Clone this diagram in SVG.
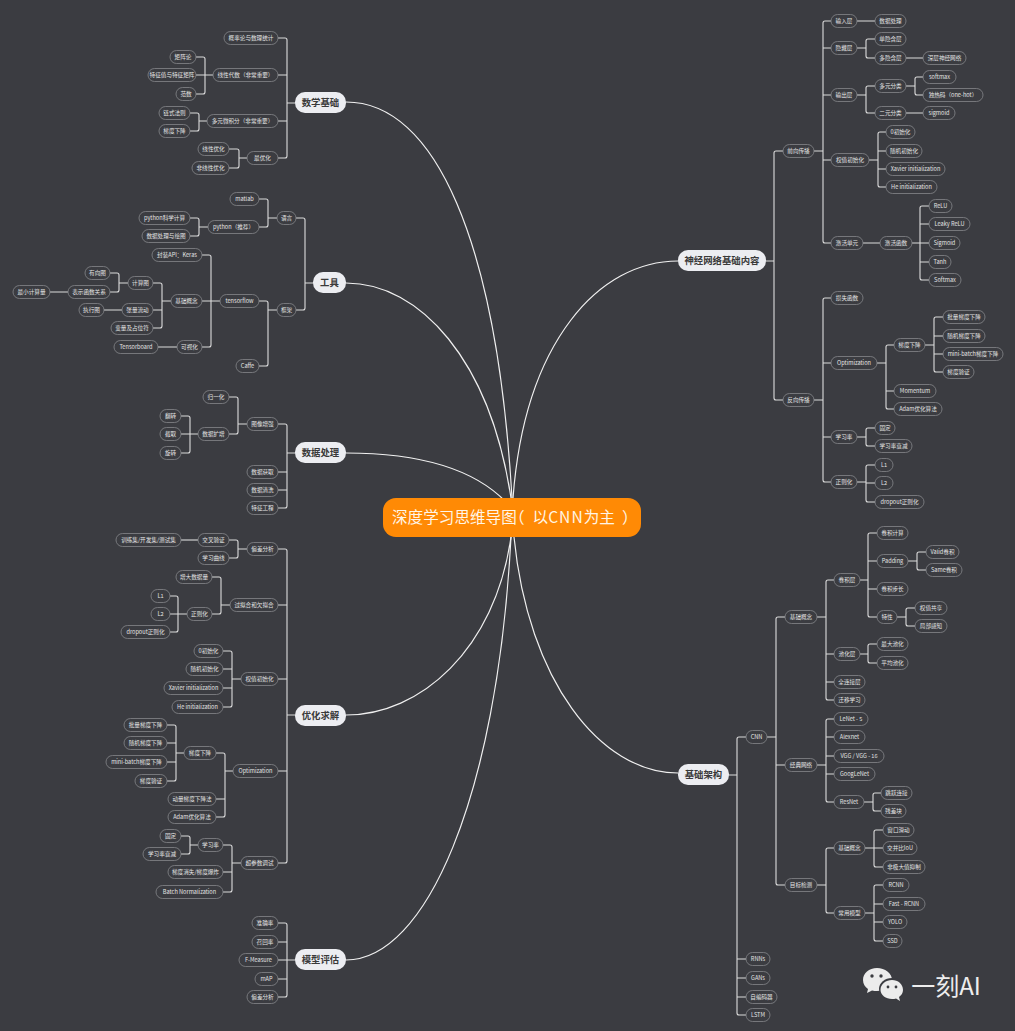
<svg xmlns="http://www.w3.org/2000/svg" width="1015" height="1031" viewBox="0 0 1015 1031">
<style>
text{font-family:"Noto Sans CJK SC","Liberation Sans",sans-serif;text-anchor:middle}
.n rect{fill:#3b3c41;stroke:#85868a;stroke-width:.8}
.n text{font-size:5.6px;fill:#e4e4e4}
.m rect{fill:#ecedf1}
.m text{font-size:9.4px;font-weight:700;fill:#3a3a3a}
.h{font-feature-settings:"halt"}
#connectors path{fill:none;stroke:#dcdcdc;stroke-width:1.1}
#connectors .c{stroke:#f0f0f0;stroke-width:1.2}
</style>
<rect width="1015" height="1031" fill="#3b3c41"/>
<g id="connectors">
<path class="c" d="M346 102C435 102 497 240 512 498"/>
<path class="c" d="M346 283C420 283 490 360 511 498"/>
<path class="c" d="M346 453C410 453 470 465 506 502"/>
<path class="c" d="M346 715C420 715 495 650 511 537"/>
<path class="c" d="M346 960C425 960 497 800 511 537"/>
<path class="c" d="M678 261C600 261 525 340 513 498"/>
<path class="c" d="M678 773C600 773 528 680 514 537"/>
<!-- left -->
<path d="M295 103H287M278 38H285Q287 38 287 40V156Q287 158 285 158H278M287 75H278M287 121H278"/>
<path d="M213 75H205M196 57H203Q205 57 205 59V92Q205 94 203 94H196M205 75H196"/>
<path d="M207 121H199M190 113H197Q199 113 199 115V129Q199 131 197 131H190"/>
<path d="M247 158H239M229 149H237Q239 149 239 151V166Q239 168 237 168H229"/>
<path d="M313 283H305M296 218H303Q305 218 305 220V308Q305 310 303 310H296"/>
<path d="M277 218H268M259 199H266Q268 199 268 201V225Q268 227 266 227H259"/>
<path d="M208 227H199M190 218H197Q199 218 199 220V234Q199 236 197 236H190"/>
<path d="M277 310H268M259 301H266Q268 301 268 303V364Q268 366 266 366H259"/>
<path d="M220 301H211M202 255H209Q211 255 211 257V345Q211 347 209 347H202M211 301H202"/>
<path d="M171 301H162M153 283H160Q162 283 162 285V326Q162 328 160 328H153M162 310H153"/>
<path d="M128 283H119M110 273H117Q119 273 119 275V290Q119 292 117 292H110"/>
<path d="M68 292H50M122 310H104M177 347H158"/>
<path d="M295 453H287M278 424H285Q287 424 287 426V506Q287 508 285 508H278M287 472H278M287 490H278"/>
<path d="M247 424H238M229 397H236Q238 397 238 399V432Q238 434 236 434H229"/>
<path d="M198 434H190M181 416H188Q190 416 190 418V451Q190 453 188 453H181M190 434H181"/>
<path d="M295 715H287M278 549H285Q287 549 287 551V861Q287 863 285 863H278M287 605H278M287 679H278M287 771H278"/>
<path d="M247 549H238M229 540H236Q238 540 238 542V556Q238 558 236 558H229"/>
<path d="M198 540H181"/>
<path d="M230 605H221M212 577H219Q221 577 221 579V612Q221 614 219 614H212"/>
<path d="M187 614H178M170 596H176Q178 596 178 598V630Q178 632 176 632H170M178 614H170"/>
<path d="M241 679H232M223 651H230Q232 651 232 653V705Q232 707 230 707H223M232 669H223M232 688H223"/>
<path d="M233 771H225M216 753H223Q225 753 225 755V815Q225 817 223 817H216M225 799H216"/>
<path d="M184 753H176M167 725H174Q176 725 176 727V779Q176 781 174 781H167M176 743H167M176 762H167"/>
<path d="M241 863H232M223 845H230Q232 845 232 847V890Q232 892 230 892H223M232 872H223"/>
<path d="M198 845H190M181 836H188Q190 836 190 838V852Q190 854 188 854H181"/>
<path d="M295 960H287M278 923H285Q287 923 287 925V995Q287 997 285 997H278M287 942H278M287 960H278M287 979H278"/>
<!-- right -->
<path d="M766 261H774M783 151H776Q774 151 774 153V398Q774 400 776 400H783"/>
<path d="M814 151H823M831 21H825Q823 21 823 23V241Q823 243 825 243H831M823 48H831M823 95H831M823 160H831"/>
<path d="M857 21H875M857 48H866M875 39H868Q866 39 866 41V56Q866 58 868 58H875M906 58H923"/>
<path d="M857 95H866M875 86H868Q866 86 866 88V111Q866 113 868 113H875M906 113H923"/>
<path d="M906 86H915M923 77H917Q915 77 915 79V93Q915 95 917 95H923"/>
<path d="M869 160H878M886 132H880Q878 132 878 134V185Q878 187 880 187H886M878 151H886M878 169H886"/>
<path d="M863 243H880M912 243H920M929 206H922Q920 206 920 208V278Q920 280 922 280H929M920 224H929M920 243H929M920 262H929"/>
<path d="M814 400H823M831 298H825Q823 298 823 300V480Q823 482 825 482H831M823 363H831M823 437H831"/>
<path d="M877 363H886M894 345H888Q886 345 886 347V407Q886 409 888 409H894M886 391H894"/>
<path d="M925 345H934M943 317H936Q934 317 934 319V370Q934 372 936 372H943M934 336H943M934 354H943"/>
<path d="M857 437H866M875 428H868Q866 428 866 430V444Q866 446 868 446H875"/>
<path d="M857 482H866M875 465H868Q866 465 866 467V500Q866 502 868 502H875M866 483H875"/>
<path d="M729 775H737M746 737H739Q737 737 737 739V1013Q737 1015 739 1015H746M737 959H746M737 978H746M737 997H746"/>
<path d="M767 737H776M785 617H778Q776 617 776 619V883Q776 885 778 885H785M776 765H785"/>
<path d="M817 617H826M834 580H828Q826 580 826 582V698Q826 700 828 700H834M826 654H834M826 682H834"/>
<path d="M860 580H868M877 533H870Q868 533 868 535V615Q868 617 870 617H877M868 561H877M868 589H877"/>
<path d="M908 561H917M926 552H919Q917 552 917 554V568Q917 570 919 570H926"/>
<path d="M897 617H906M915 608H908Q906 608 906 610V624Q906 626 908 626H915"/>
<path d="M860 654H868M877 644H870Q868 644 868 646V661Q868 663 870 663H877"/>
<path d="M817 765H826M834 719H828Q826 719 826 721V800Q826 802 828 802H834M826 737H834M826 756H834M826 774H834"/>
<path d="M864 802H873M881 793H875Q873 793 873 795V809Q873 811 875 811H881"/>
<path d="M817 885H826M834 848H828Q826 848 826 850V911Q826 913 828 913H834"/>
<path d="M865 848H874M883 830H876Q874 830 874 832V865Q874 867 876 867H883M874 848H883"/>
<path d="M865 913H874M883 885H876Q874 885 874 887V939Q874 941 876 941H883M874 904H883M874 922H883"/>
</g>
<g id="center"><rect x="383" y="498" width="258" height="39" rx="13" fill="#ff8a05"/><text x="392" y="523" font-size="15.6" fill="#fff5e6" style="text-anchor:start">深度学习思维导图<tspan class="h">（</tspan><tspan dx="8">以</tspan><tspan letter-spacing="1">CNN</tspan>为主<tspan dx="7" class="h">）</tspan></text></g>
<g id="m1" class="m"><rect x="295" y="92" width="51" height="21" rx="10"/><text x="320.5" y="106">数学基础</text></g>
<g id="m2" class="m"><rect x="313" y="272" width="33" height="21" rx="10"/><text x="329.5" y="286">工具</text></g>
<g id="m3" class="m"><rect x="295" y="442" width="51" height="21" rx="10"/><text x="320.5" y="456">数据处理</text></g>
<g id="m4" class="m"><rect x="295" y="705" width="51" height="21" rx="10"/><text x="320.5" y="719">优化求解</text></g>
<g id="m5" class="m"><rect x="295" y="949" width="51" height="21" rx="10"/><text x="320.5" y="963">模型评估</text></g>
<g id="m6" class="m"><rect x="678" y="250" width="88" height="21" rx="10"/><text x="722" y="264">神经网络基础内容</text></g>
<g id="m7" class="m"><rect x="678" y="764" width="51" height="21" rx="10"/><text x="703.5" y="778">基础架构</text></g>
<g id="a1" class="n"><rect x="224" y="31.5" width="54" height="13" rx="6.5"/><text x="251" y="40">概率论与数理统计</text></g>
<g id="a2" class="n"><rect x="213" y="68.5" width="65" height="13" rx="6.5"/><text x="245.5" y="77">线性代数（非常重要）</text></g>
<g id="a3" class="n"><rect x="207" y="114.5" width="71" height="13" rx="6.5"/><text x="242.5" y="123">多元微积分（非常重要）</text></g>
<g id="a4" class="n"><rect x="247" y="151.5" width="31" height="13" rx="6.5"/><text x="262.5" y="160">最优化</text></g>
<g id="a5" class="n"><rect x="170" y="50.5" width="26" height="13" rx="6.5"/><text x="183" y="59">矩阵论</text></g>
<g id="a6" class="n"><rect x="148" y="68.5" width="48" height="13" rx="6.5"/><text x="172" y="77">特征值与特征矩阵</text></g>
<g id="a7" class="n"><rect x="176" y="87.5" width="20" height="13" rx="6.5"/><text x="186" y="96">范数</text></g>
<g id="a8" class="n"><rect x="159" y="106.5" width="31" height="13" rx="6.5"/><text x="174.5" y="115">链式法则</text></g>
<g id="a9" class="n"><rect x="159" y="124.5" width="31" height="13" rx="6.5"/><text x="174.5" y="133">梯度下降</text></g>
<g id="a10" class="n"><rect x="198" y="142.5" width="31" height="13" rx="6.5"/><text x="213.5" y="151">线性优化</text></g>
<g id="a11" class="n"><rect x="192" y="161.5" width="37" height="13" rx="6.5"/><text x="210.5" y="170">非线性优化</text></g>
<g id="b1" class="n"><rect x="277" y="211.5" width="19" height="13" rx="6.5"/><text x="286.5" y="220">语言</text></g>
<g id="b2" class="n"><rect x="277" y="303.5" width="19" height="13" rx="6.5"/><text x="286.5" y="312">框架</text></g>
<g id="b3" class="n"><rect x="230" y="192.5" width="29" height="13" rx="6.5"/><text x="244.5" y="201">matlab</text></g>
<g id="b4" class="n"><rect x="208" y="220.5" width="51" height="13" rx="6.5"/><text x="233.5" y="229">python（推荐）</text></g>
<g id="b5" class="n"><rect x="139" y="211.5" width="51" height="13" rx="6.5"/><text x="164.5" y="220">python科学计算</text></g>
<g id="b6" class="n"><rect x="142" y="229.5" width="48" height="13" rx="6.5"/><text x="166" y="238">数据处理与绘图</text></g>
<g id="b7" class="n"><rect x="220" y="294.5" width="39" height="13" rx="6.5"/><text x="239.5" y="303">tensorflow</text></g>
<g id="b8" class="n"><rect x="236" y="359.5" width="23" height="13" rx="6.5"/><text x="247.5" y="368">Caffe</text></g>
<g id="b9" class="n"><rect x="152" y="248.5" width="50" height="13" rx="6.5"/><text x="177" y="257">封装API：Keras</text></g>
<g id="b10" class="n"><rect x="171" y="294.5" width="31" height="13" rx="6.5"/><text x="186.5" y="303">基础概念</text></g>
<g id="b11" class="n"><rect x="177" y="340.5" width="25" height="13" rx="6.5"/><text x="189.5" y="349">可视化</text></g>
<g id="b12" class="n"><rect x="128" y="276.5" width="25" height="13" rx="6.5"/><text x="140.5" y="285">计算图</text></g>
<g id="b13" class="n"><rect x="122" y="303.5" width="31" height="13" rx="6.5"/><text x="137.5" y="312">张量流动</text></g>
<g id="b14" class="n"><rect x="111" y="321.5" width="42" height="13" rx="6.5"/><text x="132" y="330">变量及占位符</text></g>
<g id="b15" class="n"><rect x="85" y="266.5" width="25" height="13" rx="6.5"/><text x="97.5" y="275">有向图</text></g>
<g id="b16" class="n"><rect x="68" y="285.5" width="42" height="13" rx="6.5"/><text x="89" y="294">表示函数关系</text></g>
<g id="b17" class="n"><rect x="13" y="285.5" width="37" height="13" rx="6.5"/><text x="31.5" y="294">最小计算量</text></g>
<g id="b18" class="n"><rect x="79" y="303.5" width="25" height="13" rx="6.5"/><text x="91.5" y="312">执行图</text></g>
<g id="b19" class="n"><rect x="114" y="340.5" width="44" height="13" rx="6.5"/><text x="136" y="349">Tensorboard</text></g>
<g id="c1" class="n"><rect x="247" y="417.5" width="31" height="13" rx="6.5"/><text x="262.5" y="426">图像增强</text></g>
<g id="c2" class="n"><rect x="203" y="390.5" width="26" height="13" rx="6.5"/><text x="216" y="399">归一化</text></g>
<g id="c3" class="n"><rect x="198" y="427.5" width="31" height="13" rx="6.5"/><text x="213.5" y="436">数据扩增</text></g>
<g id="c4" class="n"><rect x="160" y="409.5" width="21" height="13" rx="6.5"/><text x="170.5" y="418">翻转</text></g>
<g id="c5" class="n"><rect x="160" y="427.5" width="21" height="13" rx="6.5"/><text x="170.5" y="436">截取</text></g>
<g id="c6" class="n"><rect x="160" y="446.5" width="21" height="13" rx="6.5"/><text x="170.5" y="455">旋转</text></g>
<g id="c7" class="n"><rect x="247" y="465.5" width="31" height="13" rx="6.5"/><text x="262.5" y="474">数据获取</text></g>
<g id="c8" class="n"><rect x="247" y="483.5" width="31" height="13" rx="6.5"/><text x="262.5" y="492">数据清洗</text></g>
<g id="c9" class="n"><rect x="247" y="501.5" width="31" height="13" rx="6.5"/><text x="262.5" y="510">特征工程</text></g>
<g id="d1" class="n"><rect x="247" y="542.5" width="31" height="13" rx="6.5"/><text x="262.5" y="551">偏差分析</text></g>
<g id="d2" class="n"><rect x="198" y="533.5" width="31" height="13" rx="6.5"/><text x="213.5" y="542">交叉验证</text></g>
<g id="d3" class="n"><rect x="198" y="551.5" width="31" height="13" rx="6.5"/><text x="213.5" y="560">学习曲线</text></g>
<g id="d4" class="n"><rect x="116" y="533.5" width="65" height="13" rx="6.5"/><text x="148.5" y="542">训练集/开发集/测试集</text></g>
<g id="d5" class="n"><rect x="230" y="598.5" width="48" height="13" rx="6.5"/><text x="254" y="607">过拟合和欠拟合</text></g>
<g id="d6" class="n"><rect x="176" y="570.5" width="36" height="13" rx="6.5"/><text x="194" y="579">增大数据量</text></g>
<g id="d7" class="n"><rect x="187" y="607.5" width="25" height="13" rx="6.5"/><text x="199.5" y="616">正则化</text></g>
<g id="d8" class="n"><rect x="151" y="589.5" width="19" height="13" rx="6.5"/><text x="160.5" y="598">L1</text></g>
<g id="d9" class="n"><rect x="151" y="607.5" width="19" height="13" rx="6.5"/><text x="160.5" y="616">L2</text></g>
<g id="d10" class="n"><rect x="121" y="625.5" width="49" height="13" rx="6.5"/><text x="145.5" y="634">dropout正则化</text></g>
<g id="d11" class="n"><rect x="241" y="672.5" width="37" height="13" rx="6.5"/><text x="259.5" y="681">权值初始化</text></g>
<g id="d12" class="n"><rect x="194" y="644.5" width="29" height="13" rx="6.5"/><text x="208.5" y="653">0初始化</text></g>
<g id="d13" class="n"><rect x="186" y="662.5" width="37" height="13" rx="6.5"/><text x="204.5" y="671">随机初始化</text></g>
<g id="d14" class="n"><rect x="164" y="681.5" width="59" height="13" rx="6.5"/><text x="193.5" y="690">Xavier initialization</text></g>
<g id="d15" class="n"><rect x="172" y="700.5" width="51" height="13" rx="6.5"/><text x="197.5" y="709">He initialization</text></g>
<g id="d16" class="n"><rect x="233" y="764.5" width="45" height="13" rx="6.5"/><text x="255.5" y="773">Optimization</text></g>
<g id="d17" class="n"><rect x="184" y="746.5" width="32" height="13" rx="6.5"/><text x="200" y="755">梯度下降</text></g>
<g id="d18" class="n"><rect x="168" y="792.5" width="48" height="13" rx="6.5"/><text x="192" y="801">动量梯度下降法</text></g>
<g id="d19" class="n"><rect x="168" y="810.5" width="48" height="13" rx="6.5"/><text x="192" y="819">Adam优化算法</text></g>
<g id="d20" class="n"><rect x="124" y="718.5" width="43" height="13" rx="6.5"/><text x="145.5" y="727">批量梯度下降</text></g>
<g id="d21" class="n"><rect x="124" y="736.5" width="43" height="13" rx="6.5"/><text x="145.5" y="745">随机梯度下降</text></g>
<g id="d22" class="n"><rect x="106" y="755.5" width="61" height="13" rx="6.5"/><text x="136.5" y="764">mini-batch梯度下降</text></g>
<g id="d23" class="n"><rect x="135" y="774.5" width="32" height="13" rx="6.5"/><text x="151" y="783">梯度验证</text></g>
<g id="d24" class="n"><rect x="241" y="856.5" width="37" height="13" rx="6.5"/><text x="259.5" y="865">超参数调试</text></g>
<g id="d25" class="n"><rect x="198" y="838.5" width="25" height="13" rx="6.5"/><text x="210.5" y="847">学习率</text></g>
<g id="d26" class="n"><rect x="168" y="865.5" width="55" height="13" rx="6.5"/><text x="195.5" y="874">梯度消失/梯度爆炸</text></g>
<g id="d27" class="n"><rect x="156" y="885.5" width="67" height="13" rx="6.5"/><text x="189.5" y="894">Batch Normalization</text></g>
<g id="d28" class="n"><rect x="160" y="829.5" width="21" height="13" rx="6.5"/><text x="170.5" y="838">固定</text></g>
<g id="d29" class="n"><rect x="143" y="847.5" width="38" height="13" rx="6.5"/><text x="162" y="856">学习率衰减</text></g>
<g id="e1" class="n"><rect x="252" y="916.5" width="26" height="13" rx="6.5"/><text x="265" y="925">准确率</text></g>
<g id="e2" class="n"><rect x="252" y="935.5" width="26" height="13" rx="6.5"/><text x="265" y="944">召回率</text></g>
<g id="e3" class="n"><rect x="239" y="953.5" width="39" height="13" rx="6.5"/><text x="258.5" y="962">F-Measure</text></g>
<g id="e4" class="n"><rect x="255" y="972.5" width="23" height="13" rx="6.5"/><text x="266.5" y="981">mAP</text></g>
<g id="e5" class="n"><rect x="247" y="990.5" width="31" height="13" rx="6.5"/><text x="262.5" y="999">偏差分析</text></g>
<g id="f1" class="n"><rect x="783" y="144.5" width="31" height="13" rx="6.5"/><text x="798.5" y="153">前向传播</text></g>
<g id="f2" class="n"><rect x="831" y="14.5" width="26" height="13" rx="6.5"/><text x="844" y="23">输入层</text></g>
<g id="f3" class="n"><rect x="875" y="14.5" width="31" height="13" rx="6.5"/><text x="890.5" y="23">数据处理</text></g>
<g id="f4" class="n"><rect x="831" y="41.5" width="26" height="13" rx="6.5"/><text x="844" y="50">隐藏层</text></g>
<g id="f5" class="n"><rect x="875" y="32.5" width="31" height="13" rx="6.5"/><text x="890.5" y="41">单隐含层</text></g>
<g id="f6" class="n"><rect x="875" y="51.5" width="31" height="13" rx="6.5"/><text x="890.5" y="60">多隐含层</text></g>
<g id="f7" class="n"><rect x="923" y="51.5" width="43" height="13" rx="6.5"/><text x="944.5" y="60">深层神经网络</text></g>
<g id="f8" class="n"><rect x="831" y="88.5" width="26" height="13" rx="6.5"/><text x="844" y="97">输出层</text></g>
<g id="f9" class="n"><rect x="875" y="79.5" width="31" height="13" rx="6.5"/><text x="890.5" y="88">多元分类</text></g>
<g id="f10" class="n"><rect x="875" y="106.5" width="31" height="13" rx="6.5"/><text x="890.5" y="115">二元分类</text></g>
<g id="f11" class="n"><rect x="923" y="70.5" width="33" height="13" rx="6.5"/><text x="939.5" y="79">softmax</text></g>
<g id="f12" class="n"><rect x="923" y="88.5" width="60" height="13" rx="6.5"/><text x="953" y="97">独热码（one-hot）</text></g>
<g id="f13" class="n"><rect x="923" y="106.5" width="32" height="13" rx="6.5"/><text x="939" y="115">sigmoid</text></g>
<g id="f14" class="n"><rect x="831" y="153.5" width="38" height="13" rx="6.5"/><text x="850" y="162">权值初始化</text></g>
<g id="f15" class="n"><rect x="886" y="125.5" width="29" height="13" rx="6.5"/><text x="900.5" y="134">0初始化</text></g>
<g id="f16" class="n"><rect x="886" y="144.5" width="36" height="13" rx="6.5"/><text x="904" y="153">随机初始化</text></g>
<g id="f17" class="n"><rect x="886" y="162.5" width="59" height="13" rx="6.5"/><text x="915.5" y="171">Xavier initialization</text></g>
<g id="f18" class="n"><rect x="886" y="180.5" width="51" height="13" rx="6.5"/><text x="911.5" y="189">He initialization</text></g>
<g id="f19" class="n"><rect x="831" y="236.5" width="32" height="13" rx="6.5"/><text x="847" y="245">激活单元</text></g>
<g id="f20" class="n"><rect x="880" y="236.5" width="32" height="13" rx="6.5"/><text x="896" y="245">激活函数</text></g>
<g id="f21" class="n"><rect x="929" y="199.5" width="23" height="13" rx="6.5"/><text x="940.5" y="208">ReLU</text></g>
<g id="f22" class="n"><rect x="929" y="217.5" width="41" height="13" rx="6.5"/><text x="949.5" y="226">Leaky ReLU</text></g>
<g id="f23" class="n"><rect x="929" y="236.5" width="31" height="13" rx="6.5"/><text x="944.5" y="245">Sigmoid</text></g>
<g id="f24" class="n"><rect x="929" y="255.5" width="22" height="13" rx="6.5"/><text x="940" y="264">Tanh</text></g>
<g id="f25" class="n"><rect x="929" y="273.5" width="32" height="13" rx="6.5"/><text x="945" y="282">Softmax</text></g>
<g id="g1" class="n"><rect x="783" y="393.5" width="31" height="13" rx="6.5"/><text x="798.5" y="402">反向传播</text></g>
<g id="g2" class="n"><rect x="831" y="291.5" width="32" height="13" rx="6.5"/><text x="847" y="300">损失函数</text></g>
<g id="g3" class="n"><rect x="831" y="356.5" width="46" height="13" rx="6.5"/><text x="854" y="365">Optimization</text></g>
<g id="g4" class="n"><rect x="894" y="338.5" width="31" height="13" rx="6.5"/><text x="909.5" y="347">梯度下降</text></g>
<g id="g5" class="n"><rect x="894" y="384.5" width="42" height="13" rx="6.5"/><text x="915" y="393">Momentum</text></g>
<g id="g6" class="n"><rect x="894" y="402.5" width="48" height="13" rx="6.5"/><text x="918" y="411">Adam优化算法</text></g>
<g id="g7" class="n"><rect x="943" y="310.5" width="42" height="13" rx="6.5"/><text x="964" y="319">批量梯度下降</text></g>
<g id="g8" class="n"><rect x="943" y="329.5" width="42" height="13" rx="6.5"/><text x="964" y="338">随机梯度下降</text></g>
<g id="g9" class="n"><rect x="943" y="347.5" width="60" height="13" rx="6.5"/><text x="973" y="356">mini-batch梯度下降</text></g>
<g id="g10" class="n"><rect x="943" y="365.5" width="31" height="13" rx="6.5"/><text x="958.5" y="374">梯度验证</text></g>
<g id="g11" class="n"><rect x="831" y="430.5" width="26" height="13" rx="6.5"/><text x="844" y="439">学习率</text></g>
<g id="g12" class="n"><rect x="875" y="421.5" width="20" height="13" rx="6.5"/><text x="885" y="430">固定</text></g>
<g id="g13" class="n"><rect x="875" y="439.5" width="37" height="13" rx="6.5"/><text x="893.5" y="448">学习率衰减</text></g>
<g id="g14" class="n"><rect x="831" y="475.5" width="26" height="13" rx="6.5"/><text x="844" y="484">正则化</text></g>
<g id="g15" class="n"><rect x="875" y="458.5" width="18" height="13" rx="6.5"/><text x="884" y="467">L1</text></g>
<g id="g16" class="n"><rect x="875" y="476.5" width="18" height="13" rx="6.5"/><text x="884" y="485">L2</text></g>
<g id="g17" class="n"><rect x="875" y="495.5" width="49" height="13" rx="6.5"/><text x="899.5" y="504">dropout正则化</text></g>
<g id="h1" class="n"><rect x="746" y="730.5" width="21" height="13" rx="6.5"/><text x="756.5" y="739">CNN</text></g>
<g id="h2" class="n"><rect x="785" y="610.5" width="32" height="13" rx="6.5"/><text x="801" y="619">基础概念</text></g>
<g id="h3" class="n"><rect x="785" y="758.5" width="32" height="13" rx="6.5"/><text x="801" y="767">经典网络</text></g>
<g id="h4" class="n"><rect x="785" y="878.5" width="32" height="13" rx="6.5"/><text x="801" y="887">目标检测</text></g>
<g id="h5" class="n"><rect x="834" y="573.5" width="26" height="13" rx="6.5"/><text x="847" y="582">卷积层</text></g>
<g id="h6" class="n"><rect x="834" y="647.5" width="26" height="13" rx="6.5"/><text x="847" y="656">池化层</text></g>
<g id="h7" class="n"><rect x="834" y="675.5" width="31" height="13" rx="6.5"/><text x="849.5" y="684">全连接层</text></g>
<g id="h8" class="n"><rect x="834" y="693.5" width="31" height="13" rx="6.5"/><text x="849.5" y="702">迁移学习</text></g>
<g id="h9" class="n"><rect x="877" y="526.5" width="31" height="13" rx="6.5"/><text x="892.5" y="535">卷积计算</text></g>
<g id="h10" class="n"><rect x="877" y="554.5" width="31" height="13" rx="6.5"/><text x="892.5" y="563">Padding</text></g>
<g id="h11" class="n"><rect x="877" y="582.5" width="31" height="13" rx="6.5"/><text x="892.5" y="591">卷积步长</text></g>
<g id="h12" class="n"><rect x="877" y="610.5" width="20" height="13" rx="6.5"/><text x="887" y="619">特性</text></g>
<g id="h13" class="n"><rect x="926" y="545.5" width="33" height="13" rx="6.5"/><text x="942.5" y="554">Valid卷积</text></g>
<g id="h14" class="n"><rect x="926" y="563.5" width="36" height="13" rx="6.5"/><text x="944" y="572">Same卷积</text></g>
<g id="h15" class="n"><rect x="915" y="601.5" width="32" height="13" rx="6.5"/><text x="931" y="610">权值共享</text></g>
<g id="h16" class="n"><rect x="915" y="619.5" width="32" height="13" rx="6.5"/><text x="931" y="628">局部感知</text></g>
<g id="h17" class="n"><rect x="877" y="637.5" width="31" height="13" rx="6.5"/><text x="892.5" y="646">最大池化</text></g>
<g id="h18" class="n"><rect x="877" y="656.5" width="31" height="13" rx="6.5"/><text x="892.5" y="665">平均池化</text></g>
<g id="h19" class="n"><rect x="834" y="712.5" width="34" height="13" rx="6.5"/><text x="851" y="721">LeNet - 5</text></g>
<g id="h20" class="n"><rect x="834" y="730.5" width="31" height="13" rx="6.5"/><text x="849.5" y="739">Alexnet</text></g>
<g id="h21" class="n"><rect x="834" y="749.5" width="50" height="13" rx="6.5"/><text x="859" y="758">VGG / VGG - 16</text></g>
<g id="h22" class="n"><rect x="834" y="767.5" width="41" height="13" rx="6.5"/><text x="854.5" y="776">GoogLeNet</text></g>
<g id="h23" class="n"><rect x="834" y="795.5" width="30" height="13" rx="6.5"/><text x="849" y="804">ResNet</text></g>
<g id="h24" class="n"><rect x="881" y="786.5" width="31" height="13" rx="6.5"/><text x="896.5" y="795">跳跃连接</text></g>
<g id="h25" class="n"><rect x="881" y="804.5" width="25" height="13" rx="6.5"/><text x="893.5" y="813">残差块</text></g>
<g id="h26" class="n"><rect x="834" y="841.5" width="31" height="13" rx="6.5"/><text x="849.5" y="850">基础概念</text></g>
<g id="h27" class="n"><rect x="834" y="906.5" width="31" height="13" rx="6.5"/><text x="849.5" y="915">常用模型</text></g>
<g id="h28" class="n"><rect x="883" y="823.5" width="31" height="13" rx="6.5"/><text x="898.5" y="832">窗口滑动</text></g>
<g id="h29" class="n"><rect x="883" y="841.5" width="34" height="13" rx="6.5"/><text x="900" y="850">交并比IoU</text></g>
<g id="h30" class="n"><rect x="883" y="860.5" width="42" height="13" rx="6.5"/><text x="904" y="869">非极大值抑制</text></g>
<g id="h31" class="n"><rect x="883" y="878.5" width="26" height="13" rx="6.5"/><text x="896" y="887">RCNN</text></g>
<g id="h32" class="n"><rect x="883" y="897.5" width="42" height="13" rx="6.5"/><text x="904" y="906">Fast - RCNN</text></g>
<g id="h33" class="n"><rect x="883" y="915.5" width="24" height="13" rx="6.5"/><text x="895" y="924">YOLO</text></g>
<g id="h34" class="n"><rect x="883" y="934.5" width="19" height="13" rx="6.5"/><text x="892.5" y="943">SSD</text></g>
<g id="h35" class="n"><rect x="746" y="952.5" width="24" height="13" rx="6.5"/><text x="758" y="961">RNNs</text></g>
<g id="h36" class="n"><rect x="746" y="971.5" width="24" height="13" rx="6.5"/><text x="758" y="980">GANs</text></g>
<g id="h37" class="n"><rect x="746" y="990.5" width="31" height="13" rx="6.5"/><text x="761.5" y="999">自编码器</text></g>
<g id="h38" class="n"><rect x="746" y="1008.5" width="24" height="13" rx="6.5"/><text x="758" y="1017">LSTM</text></g>
<g id="logo">
<path d="M877 968C869 968 863 973 863 980C863 984 865 987 868 989L867 993L872 990.500C874 991 875 991 877 991C885 991 892 986 892 980C892 973 885 968 877 968Z" fill="#ececec"/>
<ellipse cx="892" cy="989" rx="13" ry="11" fill="#3b3c41"/>
<path d="M892 980C886 980 880.500 984 880.500 990C880.500 995 886 999 892 999C893.500 999 895 999 896 998.500L900 1001L899 997C901.500 995 903 993 903 990C903 984 898 980 892 980Z" fill="#ececec"/>
<circle cx="872" cy="976" r="1.700" fill="#3b3c41"/><circle cx="881" cy="976" r="1.700" fill="#3b3c41"/>
<circle cx="888" cy="987" r="1.400" fill="#3b3c41"/><circle cx="896" cy="987" r="1.400" fill="#3b3c41"/>
<text x="946" y="994.500" font-size="24" fill="#ededed">一刻AI</text>
</g>
</svg>
